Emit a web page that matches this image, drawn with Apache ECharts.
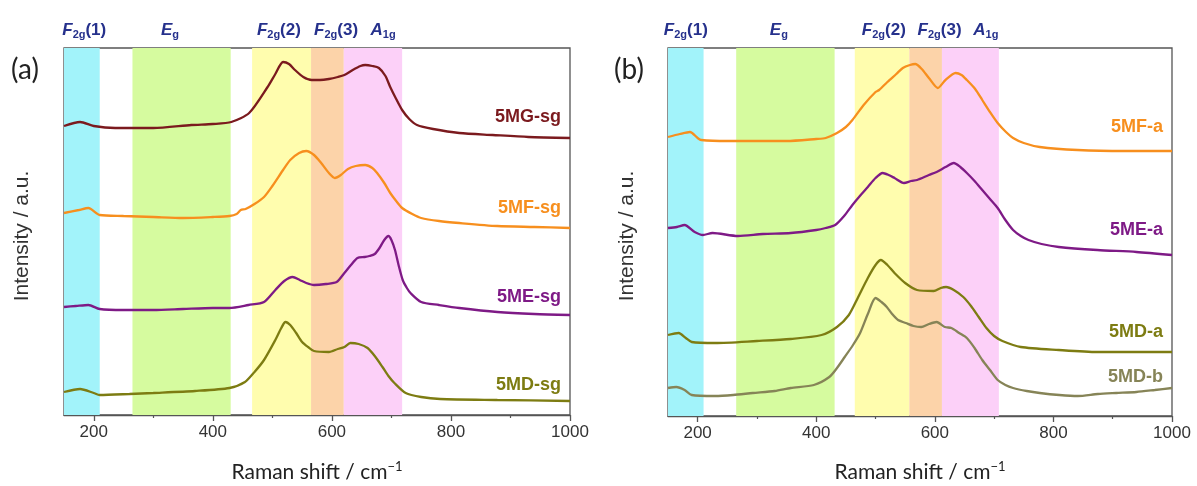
<!DOCTYPE html>
<html><head><meta charset="utf-8">
<script src="https://cdn.jsdelivr.net/npm/echarts@6/dist/echarts.min.js"></script>
<style>html,body{margin:0;padding:0;background:#fff}#c{width:1197px;height:486px}</style>
</head><body><div id="c"></div><script>
// ---------- DATA (Raman shift in cm-1, intensity in arbitrary units) ----------
// Panel (a)
const MGsg_x = [150,177,200,236,300,364,400,431,461,492,505,518,528,538,552,566,580,595,610,621,635,648,656,668,679,690,698,708,718,730,743,770,814,870,930,1000];
const MGsg_y = [289,293,289,287,287,290,291,293,302,328,341,353,351,345,338,335,335,336,338,340,345,349,350,349,347,339,328,316,305,296,290,286,282,280,278,277];
const MFsg_x = [150,175,191,210,250,300,350,400,428,440,447,455,470,486,500,518,530,545,557,570,582,595,605,615,627,640,656,668,676,688,698,708,718,735,750,780,814,878,940,1000];
const MFsg_y = [202,205,207,200,199,198,197,198,199,201,205,206,211,218,229,245,255,262,264,260,252,242,237,240,246,249,250,247,242,232,222,214,207,201,197,194,192,189,188,187];
const MEsg_x = [150,170,191,210,250,300,350,400,428,460,486,505,520,534,546,557,570,590,608,621,632,643,655,663,672,680,688,695,700,706,712,719,726,732,750,780,814,878,940,1000];
const MEsg_y = [108,109,110,106,105,105,106,107,107,110,113,125,134,138,135,132,130,131,133,142,150,157,158,159,161,167,175,179,175,165,150,135,127,122,113,110,107,103,101,100];
const MDsg_x = [150,177,200,210,260,300,370,428,454,470,486,505,515,522,530,540,550,560,570,595,610,621,631,645,660,672,685,695,705,724,750,782,878,1000];
const MDsg_y = [23,26,22,20,21,22,24,27,33,43,55,75,87,93,90,82,73,68,64,63,66,68,72,71,67,59,48,39,32,22,18,16,15,14];
// Panel (b)
const MFa_x = [150,170,187,200,206,250,300,350,400,416,435,450,461,480,500,506,520,535,546,558,567,578,590,605,618,635,645,654,668,680,693,706,720,732,750,777,841,920,1000];
const MFa_y = [279,282,284,278,276,275,275,275,277,278,283,289,296,311,324,326,334,342,348,351,352,347,338,328,336,343,341,336,327,316,304,293,284,278,273,269,266,265,265];
const MEa_x = [150,165,178,195,209,225,268,310,357,400,416,432,447,461,475,487,500,512,522,532,548,560,570,590,603,618,632,643,654,667,680,693,706,719,732,745,758,780,809,874,940,1000];
const MEa_y = [188,189,191,184,181,183,180,182,183,186,188,191,200,211,221,229,238,243,241,238,233,235,236,241,244,249,253,249,243,235,226,217,208,196,186,180,176,172,169,166,164,161];
const MDa_x = [150,168,180,190,230,300,357,409,435,455,470,487,500,509,520,532,550,570,598,610,619,632,648,661,674,687,700,714,745,809,874,1000];
const MDa_y = [81,83,78,74,73,75,77,81,89,101,118,138,151,156,151,143,133,126,125,128,129,126,119,110,99,88,80,75,69,66,64,64];
const MDb_x = [150,164,178,190,229,260,293,330,357,396,422,435,448,462,474,487,500,510,519,528,538,551,564,577,590,603,617,628,641,654,667,680,693,706,719,732,755,777,810,841,875,906,940,971,1000];
const MDb_y = [28,29,26,21,20,21,23,25,28,31,39,48,59,71,83,102,118,114,109,102,96,93,90,89,92,94,89,88,83,78,68,56,46,36,31,28,25,23,21,20,22,23,24,26,28];

// Series names
const namesA = ['5MG-sg','5MF-sg','5ME-sg','5MD-sg'];
const namesB = ['5MF-a','5ME-a','5MD-a','5MD-b'];
// Vibrational mode bands (cm-1): [start, end]
const bandNames = ['F2g(1)','Eg','F2g(2)','F2g(3)','A1g'];
const bandsA = [[150,210],[265,430],[466,565],[565,620],[620,718]];
const bandsB = [[150,210],[265,431],[465,557],[557,612],[612,708]];
// Mode label centres (cm-1)
const modeLabelA = [184,328,511,607,686];
const modeLabelB = [180,337,514,608,686];
// Axis ticks
const majorTicks = [200,400,600,800,1000];
const minorTicks = [300,500,700,900];
const xMin = 150, xMax = 1000;

// ---------- STYLE ----------
const colors = {'5MG-sg':'#7B1A1E','5MF-sg':'#F78F1E','5ME-sg':'#7E1A86','5MD-sg':'#7D7C12',
  '5MF-a':'#F78F1E','5ME-a':'#7E1A86','5MD-a':'#7D7C12','5MD-b':'#868457'};
const bandColors = ['#A2F3FA','#D6FB9F','#FFFDAE','#FCD3A9','#FCD0F8'];
const labelAnchorA = [298,207,118,30];
const labelAnchorB = [289,186,84,39];
const axisColor = '#555';
const tickFont = 'Liberation Sans, Arial, sans-serif';
const modeColor = '#26318C';

function zip(xs, ys){ return xs.map((x,i)=>[x, ys[i]]); }
const dataA = [zip(MGsg_x,MGsg_y), zip(MFsg_x,MFsg_y), zip(MEsg_x,MEsg_y), zip(MDsg_x,MDsg_y)];
const dataB = [zip(MFa_x,MFa_y), zip(MEa_x,MEa_y), zip(MDa_x,MDa_y), zip(MDb_x,MDb_y)];

function mainX(grid){
  return {type:'value', gridIndex:grid, min:xMin, max:xMax, position:'bottom',
    axisLine:{show:true, lineStyle:{color:axisColor, width:1.3}},
    axisTick:{show:true, customValues:majorTicks, length:6, lineStyle:{color:axisColor, width:1.3}},
    axisLabel:{show:true, customValues:majorTicks, fontSize:17, color:'#333', margin:9, fontFamily:tickFont,
      formatter:(v)=>String(v)},
    splitLine:{show:false}};
}
function minorX(grid){
  return {type:'value', gridIndex:grid, min:xMin, max:xMax, position:'bottom',
    axisLine:{show:false}, axisLabel:{show:false}, splitLine:{show:false},
    axisTick:{show:true, customValues:minorTicks, length:3, lineStyle:{color:axisColor, width:1.2}}};
}
function yAx(grid, max){
  return {type:'value', gridIndex:grid, min:0, max:max,
    axisLine:{show:false}, axisTick:{show:false}, axisLabel:{show:false}, splitLine:{show:false}};
}
function bandSeries(xi, yi, bands){
  return {type:'line', xAxisIndex:xi, yAxisIndex:yi, data:[], silent:true, z:1,
    markArea:{silent:true, data: bands.map((b,i)=>[{xAxis:b[0], itemStyle:{color:bandColors[i]}},{xAxis:b[1]}])}};
}
function lineSeries(name, data, xi, yi, anchor){
  return {type:'line', name:name, xAxisIndex:xi, yAxisIndex:yi, data:data, showSymbol:false,
    smooth:0.25, z:3, lineStyle:{color:colors[name], width:2.3}, itemStyle:{color:colors[name]},
    markPoint:{symbolSize:0, silent:true, data:[{coord:[985, anchor], name:name}],
      label:{show:true, position:'inside', align:'right', verticalAlign:'middle', formatter:name,
        color:colors[name], fontSize:18, fontWeight:'bold', fontFamily:tickFont}}};
}

const series = [bandSeries(0,0,bandsA), bandSeries(2,1,bandsB)];
namesA.forEach((n,i)=>series.push(lineSeries(n, dataA[i], 0, 0, labelAnchorA[i])));
namesB.forEach((n,i)=>series.push(lineSeries(n, dataB[i], 2, 1, labelAnchorB[i])));

const chart = echarts.init(document.getElementById('c'), null, {renderer:'canvas'});
chart.setOption({
  animation:false,
  backgroundColor:'#fff',
  grid:[
    {left:64, top:48, width:506, height:367, show:true, borderColor:axisColor, borderWidth:1.3, backgroundColor:'transparent'},
    {left:668, top:48, width:504, height:368, show:true, borderColor:axisColor, borderWidth:1.3, backgroundColor:'transparent'}
  ],
  xAxis:[mainX(0), minorX(0), mainX(1), minorX(1)],
  yAxis:[yAx(0,367), yAx(1,368)],
  series:series
});

// ---------- TEXT ANNOTATIONS ----------
const modeRich = {
  i:{fontStyle:'italic', fontWeight:'bold', fontSize:17, lineHeight:20, fill:modeColor, fontFamily:tickFont},
  b:{fontWeight:'bold', fontSize:17, lineHeight:20, fill:modeColor, fontFamily:tickFont},
  s:{fontWeight:'bold', fontSize:11, lineHeight:11, verticalAlign:'bottom', fill:modeColor, fontFamily:tickFont}
};
const modeText = ['{i|F}{s|2g}{b|(1)}','{i|E}{s|g}','{i|F}{s|2g}{b|(2)}','{i|F}{s|2g}{b|(3)}','{i|A}{s|1g}'];
const graphics = [];
function addModes(labels, xAxisIndex){
  labels.forEach((v,i)=>{
    const px = chart.convertToPixel({xAxisIndex:xAxisIndex}, v);
    graphics.push({type:'text', x:px, y:30, style:{text:modeText[i], rich:modeRich, fill:modeColor, align:'center', verticalAlign:'middle'}});
  });
}
addModes(modeLabelA, 0);
addModes(modeLabelB, 2);
graphics.push({type:'text', x:25, y:70, style:{text:'(a)', font:'28px Lato, sans-serif', fill:'#222', align:'center', verticalAlign:'middle'}});
graphics.push({type:'text', x:629, y:70, style:{text:'(b)', font:'28px Lato, sans-serif', fill:'#222', align:'center', verticalAlign:'middle'}});
[22, 627].forEach(x=>{
  graphics.push({type:'text', x:x, y:236, rotation:Math.PI/2, style:{text:'Intensity / a.u.', font:'21px "Liberation Sans", Arial, sans-serif', fill:'#333', align:'center', verticalAlign:'middle'}});
});
const xRich = {
  m:{fontSize:21, lineHeight:24, fill:'#222', fontFamily:'Lato, sans-serif'},
  p:{fontSize:13, lineHeight:13, verticalAlign:'top', fill:'#222', fontFamily:'Lato, sans-serif'}
};
[[0,317],[1,920]].forEach(([g,cx])=>{
  graphics.push({type:'text', x:cx, y:472, style:{text:'{m|Raman shift / cm}{p|\u22121}', rich:xRich, fill:'#222', align:'center', verticalAlign:'middle'}});
});
chart.setOption({graphic:graphics});
</script></body></html>
